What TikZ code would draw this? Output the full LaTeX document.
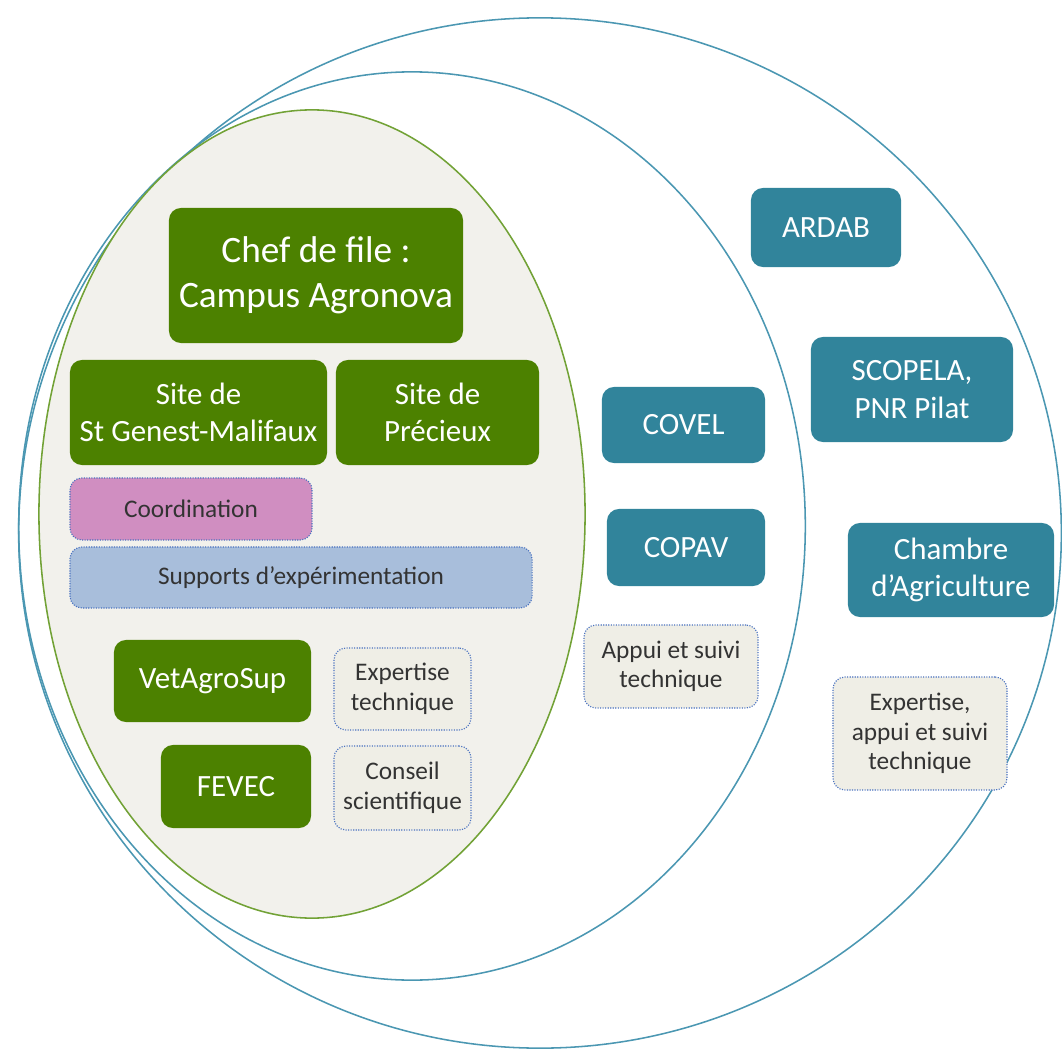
\documentclass[tikz,border=0pt]{standalone}
\usepackage{fontspec}
\setmainfont{Carlito}
\usepackage{xcolor}
\usepackage{tikz}
\usetikzlibrary{calc}

\definecolor{agrogreen}{HTML}{4C8100}
\definecolor{agroteal}{HTML}{31849B}
\definecolor{ovalfill}{HTML}{F2F1EC}
\definecolor{ovalgreen}{HTML}{72A236}
\definecolor{ringblue}{HTML}{4B97B2}
\definecolor{coordpink}{HTML}{D08EC1}
\definecolor{suppblue}{HTML}{A8BEDB}
\definecolor{notefill}{HTML}{EFEEE6}
\definecolor{dotblue}{HTML}{4A72C0}
\definecolor{notetext}{HTML}{333333}

\begin{document}
\begin{tikzpicture}[x=0.025cm,y=-0.025cm]%%partenaires
                \tikzstyle{partner} = [rectangle, rounded corners=0.3cm, inner sep=0pt, align=center, text=white, font=\fontsize{22}{26.5}\selectfont]
                \tikzstyle{lead}    = [partner, fill=agrogreen]
                \tikzstyle{outside} = [partner, fill=agroteal]
                \tikzstyle{role}    = [rectangle, rounded corners=0.3cm, inner sep=0pt, align=center, draw=dotblue, densely dotted, thick, text=notetext, font=\fontsize{18}{21}\selectfont]
                \tikzstyle{ring}    = [draw=ringblue, line width=1.1pt]
                \useasboundingbox (0,0) rectangle (1062,1049);

                \draw [ring] (540,533) ellipse [x radius=13.03cm, y radius=12.875cm];
                \draw [ring] (412,526) ellipse [x radius=9.83cm, y radius=11.35cm];
                \draw [draw=ovalgreen, line width=1.1pt, fill=ovalfill] (312,514) ellipse [x radius=6.825cm, y radius=10.1cm];

                \node [lead, minimum width=7.35cm, minimum height=3.375cm, font=\fontsize{26.5}{32}\selectfont](chef) at (316,275.5) {Chef de file :\\Campus Agronova};
                \node [lead, minimum width=6.425cm, minimum height=2.625cm](genest) at (198.5,412.5) {Site de\\St Genest-Malifaux};
                \node [lead, minimum width=5.075cm, minimum height=2.625cm](precieux) at (437.5,412.5) {Site de\\Précieux};
                \node [role, fill=coordpink, minimum width=6.05cm, minimum height=1.55cm](coord) at (191,509) {Coordination};
                \node [role, fill=suppblue, minimum width=11.55cm, minimum height=1.525cm](supports) at (301,577.5) {Supports d'expérimentation};
                \node [lead, minimum width=4.925cm, minimum height=2.05cm](vetagro) at (212.5,681) {VetAgroSup};
                \node [role, fill=notefill, minimum width=3.425cm, minimum height=2.05cm](expertise) at (402.5,689) {Expertise\\technique};
                \node [lead, minimum width=3.75cm, minimum height=2.075cm](fevec) at (236,786.5) {FEVEC};
                \node [role, fill=notefill, minimum width=3.425cm, minimum height=2.1cm](conseil) at (402.5,788) {Conseil\\scientifique};

                \node [outside, minimum width=4.075cm, minimum height=1.9cm](covel) at (683.5,425) {COVEL};
                \node [outside, minimum width=3.95cm, minimum height=1.925cm](copav) at (686,547.5) {COPAV};
                \node [role, fill=notefill, minimum width=4.35cm, minimum height=2.075cm](appui) at (671,666.5) {Appui et suivi\\technique};

                \node [outside, minimum width=3.75cm, minimum height=1.975cm](ardab) at (826,227.5) {ARDAB};
                \node [outside, minimum width=5.05cm, minimum height=2.625cm](scopela) at (912,389.5) {SCOPELA,\\PNR Pilat};
                \node [outside, minimum width=5.15cm, minimum height=2.35cm](chambre) at (951,570) {Chambre\\d'Agriculture};
                \node [role, fill=notefill, minimum width=4.35cm, minimum height=2.825cm](expappui) at (920,733.5) {Expertise,\\appui et suivi\\technique};
\end{tikzpicture}
\end{document}
